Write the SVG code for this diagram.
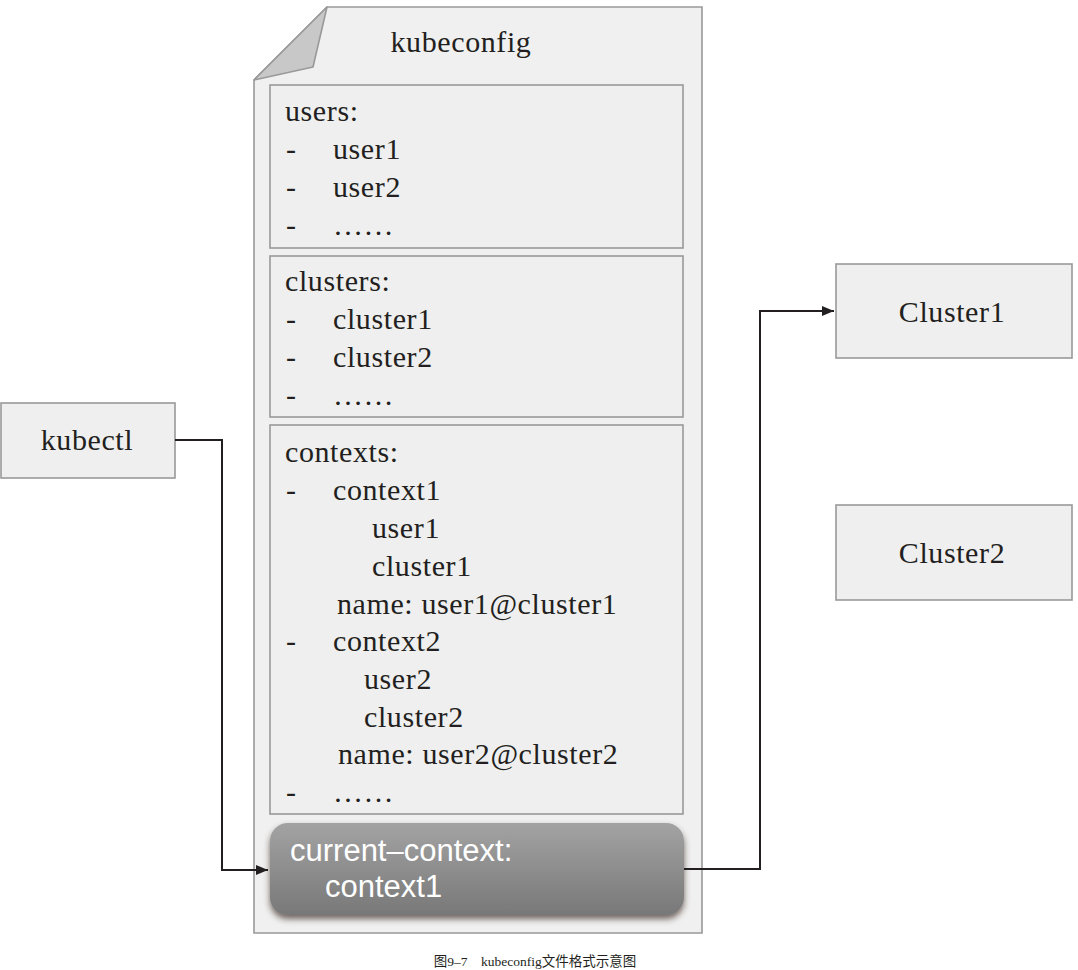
<svg xmlns="http://www.w3.org/2000/svg" width="1078" height="970" viewBox="0 0 1078 970">
<defs>
<style>
.box{fill:#efefef;stroke:#999;stroke-width:1.6}
.t{font-family:"Liberation Serif","Times New Roman",serif;font-size:30px;fill:#231f20;letter-spacing:0.6px}
.w{font-family:"Liberation Sans",Arial,sans-serif;font-size:31px;fill:#fff}
.cap{font-family:"Liberation Serif","Noto Sans CJK SC",serif;font-size:13.5px;fill:#231f20}
.con{fill:none;stroke:#231f20;stroke-width:2}
</style>
<marker id="arr" viewBox="0 0 12 10" refX="12" refY="5" markerWidth="12" markerHeight="10" markerUnits="userSpaceOnUse" orient="auto">
<path d="M0,0 L12,5 L0,10 z" fill="#231f20"/>
</marker>
<linearGradient id="cg" x1="0" y1="0" x2="0" y2="1">
<stop offset="0" stop-color="#a3a3a3"/>
<stop offset="1" stop-color="#787878"/>
</linearGradient>
<filter id="sh" x="-5%" y="-10%" width="110%" height="130%">
<feDropShadow dx="0" dy="4" stdDeviation="3" flood-color="#3b2a22" flood-opacity="0.7"/>
</filter>
</defs>

<g id="kubeconfig">
<path d="M254,80 L327,7 L702,7 L702,933 L254,933 Z" fill="#f0f0f0" stroke="#999" stroke-width="1.6"/>
<path d="M254,80 L327,7 L313,67 Z" fill="#c8c8c8" stroke="#999" stroke-width="1.6" stroke-linejoin="round"/>
<text class="t" x="461" y="52" text-anchor="middle">kubeconfig</text>
</g>

<g id="users">
<rect class="box" x="270" y="85" width="413" height="163"/>
<text class="t" x="285" y="121">users:</text>
<text class="t" x="286" y="159">-</text><text class="t" x="333" y="159">user1</text>
<text class="t" x="286" y="197">-</text><text class="t" x="333" y="197">user2</text>
<text class="t" x="286" y="235">-</text><text class="t" x="333" y="235">……</text>
</g>

<g id="clusters">
<rect class="box" x="270" y="256" width="413" height="161"/>
<text class="t" x="285" y="291">clusters:</text>
<text class="t" x="286" y="329">-</text><text class="t" x="333" y="329">cluster1</text>
<text class="t" x="286" y="367">-</text><text class="t" x="333" y="367">cluster2</text>
<text class="t" x="286" y="405">-</text><text class="t" x="333" y="405">……</text>
</g>

<g id="contexts">
<rect class="box" x="270" y="425" width="413" height="389"/>
<text class="t" x="285" y="462">contexts:</text>
<text class="t" x="286" y="500">-</text><text class="t" x="333" y="500">context1</text>
<text class="t" x="372" y="538">user1</text>
<text class="t" x="372" y="576">cluster1</text>
<text class="t" x="337" y="614">name: user1@cluster1</text>
<text class="t" x="286" y="651">-</text><text class="t" x="333" y="651">context2</text>
<text class="t" x="364" y="689">user2</text>
<text class="t" x="364" y="727">cluster2</text>
<text class="t" x="338" y="764">name: user2@cluster2</text>
<text class="t" x="286" y="802">-</text><text class="t" x="333" y="802">……</text>
</g>

<g id="current-context">
<rect x="270" y="823" width="414" height="92" rx="18" ry="18" fill="url(#cg)" filter="url(#sh)"/>
<text class="w" x="290" y="861">current–context:</text>
<text class="w" x="325" y="897">context1</text>
</g>

<g id="kubectl">
<rect class="box" x="1" y="403" width="174" height="75"/>
<text class="t" x="87" y="450" text-anchor="middle">kubectl</text>
</g>

<g id="cluster1">
<rect class="box" x="836" y="264" width="236" height="94"/>
<text class="t" x="952" y="322" text-anchor="middle">Cluster1</text>
</g>

<g id="cluster2">
<rect class="box" x="836" y="505" width="236" height="95"/>
<text class="t" x="952" y="563" text-anchor="middle">Cluster2</text>
</g>

<g id="connectors">
<path class="con" d="M175,440 H222 V870 H268" marker-end="url(#arr)"/>
<path class="con" d="M684,869 H760 V311 H834" marker-end="url(#arr)"/>
</g>

<text class="cap" x="535" y="966" text-anchor="middle">图9–7　kubeconfig文件格式示意图</text>
</svg>
